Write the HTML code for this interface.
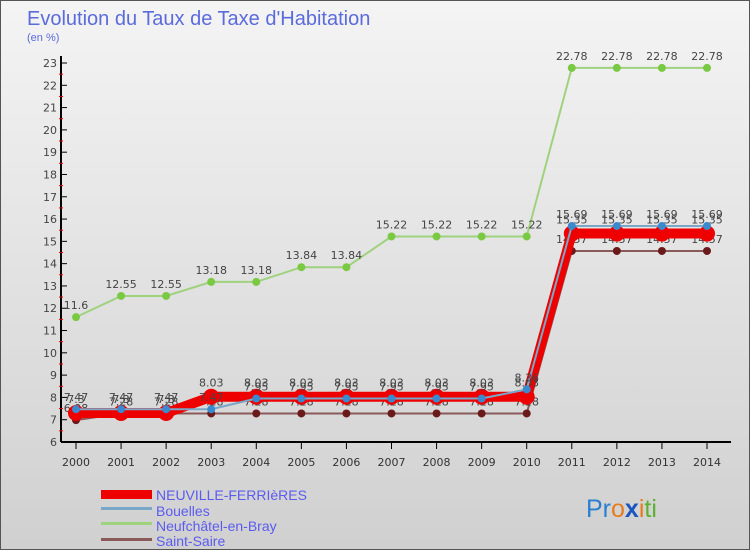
<!DOCTYPE html>
<html><head><meta charset="utf-8"><style>
body{margin:0}
#c{width:750px;height:550px;position:relative;overflow:hidden;font-family:"DejaVu Sans","Liberation Sans",sans-serif;background:linear-gradient(#f4f4f4,#d0d0d0);box-sizing:border-box;border:1px solid #555}
</style></head><body>
<div id="c">
<svg id="s" width="750" height="550" style="position:absolute;left:0;top:0">
<text x="26" y="24" font-size="20" fill="#5b6bdc" font-family="Liberation Sans,sans-serif">Evolution du Taux de Taxe d'Habitation</text>
<text x="26" y="40" font-size="11" fill="#5b6bdc" font-family="Liberation Sans,sans-serif">(en %)</text>
<g id="ax"></g><g id="ser"></g>
<g font-family="Liberation Sans,sans-serif" font-size="14" fill="#5b5bf0">
<rect x="100" y="489" width="51" height="9" fill="#ee0000"/>
<text x="155" y="499">NEUVILLE-FERRIèRES</text>
<rect x="100" y="506" width="51" height="3" fill="#7aa6c8"/>
<text x="155" y="515">Bouelles</text>
<rect x="100" y="521" width="51" height="3" fill="#9fd27e"/>
<text x="155" y="530">Neufchâtel-en-Bray</text>
<rect x="100" y="537" width="51" height="3" fill="#8a5a5a"/>
<text x="155" y="545">Saint-Saire</text>
</g>
<g font-size="25" font-family="Liberation Sans,sans-serif">
<text x="585" y="516"><tspan fill="#2a7fd0">Pr</tspan><tspan fill="#e87c1a">o</tspan><tspan fill="#1a55c0" font-weight="bold">x</tspan><tspan fill="#e87c1a">i</tspan><tspan fill="#5cb030">ti</tspan></text>
</g>
</svg>
</div>
<script>
const years=[2000,2001,2002,2003,2004,2005,2006,2007,2008,2009,2010,2011,2012,2013,2014];
const yTicks=[6,7,8,9,10,11,12,13,14,15,16,17,18,19,20,21,22,23];
const neuville=[7.3,7.3,7.3,8.03,8.03,8.03,8.03,8.03,8.03,8.03,8.03,15.35,15.35,15.35,15.35];
const bouelles=[7.47,7.47,7.47,7.47,7.95,7.95,7.95,7.95,7.95,7.95,8.36,15.69,15.69,15.69,15.69];
const neufchatel=[11.6,12.55,12.55,13.18,13.18,13.84,13.84,15.22,15.22,15.22,15.22,22.78,22.78,22.78,22.78];
const saintSaire=[6.98,7.28,7.28,7.28,7.28,7.28,7.28,7.28,7.28,7.28,7.28,14.57,14.57,14.57,14.57];
const NS='http://www.w3.org/2000/svg';
const X=i=>75+i*(706-75)/14;
const Y=v=>441-(v-6)*(441-62)/17;
function mk(t,a,p){const e=document.createElementNS(NS,t);for(const k in a)e.setAttribute(k,a[k]);p.appendChild(e);return e;}
const ax=document.getElementById('ax');
let l=mk('line',{x1:60,y1:55,x2:60,y2:441,stroke:'#000','stroke-width':2},ax);


l=mk('line',{x1:60,y1:441,x2:730,y2:441,stroke:'#000','stroke-width':2},ax);


yTicks.forEach(v=>{
 mk('line',{x1:60,x2:66,y1:Y(v),y2:Y(v),stroke:'#000'},ax);
 if(v<23) mk('line',{x1:58,x2:62,y1:Y(v+0.5),y2:Y(v+0.5),stroke:'#e00'},ax);
 const t=mk('text',{x:56,y:Y(v)+4,'text-anchor':'end','font-size':11,fill:'#444'},ax);t.textContent=v;
 
 
});
years.forEach((y,i)=>{
 mk('line',{x1:X(i),x2:X(i),y1:441,y2:448,stroke:'#000'},ax);
 const t=mk('text',{x:X(i),y:465,'text-anchor':'middle','font-size':11,fill:'#333'},ax);t.textContent=y;
 
 
});
const ser=document.getElementById('ser');
function draw(d,col,w,r,dot,name,dy){
 const g=mk('g',{},ser);
 
 
 mk('polyline',{points:d.map((v,i)=>X(i)+','+Y(v)).join(' '),fill:'none',stroke:col,'stroke-width':w},g);
 d.forEach((v,i)=>{
  const c=mk('circle',{cx:X(i),cy:Y(v),r:r,fill:dot},g);
  
  
  const t=mk('text',{x:X(i),y:Y(v)+dy,'text-anchor':'middle','font-size':11,fill:'#444'},g);t.textContent=String(v);
 });
}
draw(saintSaire,'#8a5a5a',2,4,'#6a1a1a','saint-saire',-8);
draw(neufchatel,'#9fd27e',2,4,'#7ac943','neufchatel',-8);
draw(neuville,'#ee0000',10,8,'#ee0000','neuville',-10);
draw(bouelles,'#7aa6c8',2,4,'#3a8ad0','bouelles',-8);
</script>
</body></html>
